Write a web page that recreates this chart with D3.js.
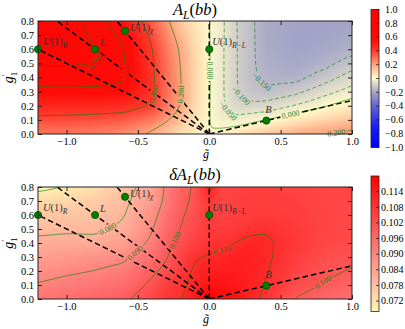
<!DOCTYPE html>
<html>
<head>
<meta charset="utf-8">
<script src="https://cdn.jsdelivr.net/npm/d3@7"></script>
<style>
  body { margin: 0; background: #fff; }
  svg text { font-family: "Liberation Serif", "DejaVu Serif", serif; }
</style>
</head>
<body>
<svg width="405" height="329"></svg>
<script>
var svg = d3.select('svg');

var gx = [-1.2, -1.0, -0.8, -0.6, -0.4, -0.3, -0.2, -0.1, 0.0, 0.1, 0.2, 0.3, 0.4, 0.6, 0.8, 1.0];
var gy = [0.0, 0.05, 0.1, 0.15, 0.2, 0.3, 0.4, 0.5, 0.6, 0.7, 0.8];

// A_L(bb), one row per gy value
var asym = [
  [0.28, 0.28, 0.27, 0.24, 0.18, 0.13, 0.08, 0.04, 0, 0.04, 0.08, 0.11, 0.14, 0.185, 0.205, 0.215],
  [0.32, 0.32, 0.31, 0.29, 0.22, 0.17, 0.11, 0.05, 0, -0.012, -0.002, 0.025, 0.065, 0.12, 0.16, 0.19],
  [0.37, 0.37, 0.36, 0.34, 0.28, 0.21, 0.145, 0.065, 0, -0.033, -0.03, -0.02, -0.005, 0.05, 0.1, 0.14],
  [0.42, 0.415, 0.41, 0.40, 0.34, 0.25, 0.175, 0.08, 0, -0.043, -0.06, -0.05, -0.045, -0.008, 0.04, 0.09],
  [0.47, 0.46, 0.46, 0.45, 0.39, 0.28, 0.195, 0.09, 0, -0.047, -0.085, -0.09, -0.08, -0.048, -0.01, 0.035],
  [0.57, 0.565, 0.57, 0.56, 0.42, 0.30, 0.202, 0.1, 0, -0.048, -0.102, -0.125, -0.14, -0.115, -0.07, -0.03],
  [0.65, 0.65, 0.655, 0.615, 0.42, 0.30, 0.202, 0.1, 0, -0.048, -0.103, -0.14, -0.165, -0.17, -0.125, -0.075],
  [0.71, 0.71, 0.705, 0.61, 0.415, 0.295, 0.195, 0.1, 0, -0.048, -0.103, -0.142, -0.175, -0.19, -0.17, -0.125],
  [0.75, 0.74, 0.705, 0.605, 0.405, 0.28, 0.185, 0.09, 0, -0.048, -0.103, -0.142, -0.18, -0.2, -0.19, -0.17],
  [0.78, 0.76, 0.68, 0.57, 0.37, 0.25, 0.16, 0.08, 0, -0.047, -0.103, -0.142, -0.182, -0.2, -0.2, -0.19],
  [0.80, 0.77, 0.645, 0.52, 0.33, 0.22, 0.12, 0.06, 0, -0.046, -0.105, -0.142, -0.185, -0.2, -0.205, -0.2]
];

// delta A_L(bb), one row per gy value
var delta = [
  [0.093, 0.095, 0.097, 0.099, 0.104, 0.108, 0.1095, 0.115, 0.12, 0.117, 0.1155, 0.1115, 0.1085, 0.0995, 0.0965, 0.094],
  [0.092, 0.0935, 0.095, 0.097, 0.103, 0.107, 0.109, 0.113, 0.118, 0.1165, 0.115, 0.112, 0.109, 0.1015, 0.098, 0.0955],
  [0.0905, 0.092, 0.093, 0.0955, 0.1015, 0.106, 0.1085, 0.112, 0.116, 0.1155, 0.1145, 0.1125, 0.1095, 0.103, 0.0995, 0.097],
  [0.089, 0.0905, 0.0915, 0.094, 0.1002, 0.104, 0.108, 0.1115, 0.1145, 0.1145, 0.114, 0.1125, 0.1099, 0.104, 0.1005, 0.0985],
  [0.0875, 0.089, 0.0902, 0.092, 0.0985, 0.102, 0.107, 0.111, 0.113, 0.1135, 0.1135, 0.1125, 0.1105, 0.105, 0.1015, 0.0995],
  [0.0845, 0.0855, 0.087, 0.0885, 0.095, 0.0995, 0.1045, 0.1095, 0.1105, 0.1115, 0.1125, 0.1125, 0.111, 0.1065, 0.1025, 0.1015],
  [0.0815, 0.082, 0.0815, 0.0845, 0.0915, 0.098, 0.102, 0.105, 0.1085, 0.1085, 0.1105, 0.112, 0.111, 0.1075, 0.104, 0.103],
  [0.0785, 0.079, 0.079, 0.081, 0.0895, 0.096, 0.1002, 0.1035, 0.107, 0.106, 0.107, 0.1085, 0.1095, 0.107, 0.1045, 0.1035],
  [0.0765, 0.077, 0.078, 0.0795, 0.0875, 0.094, 0.0993, 0.102, 0.1065, 0.105, 0.106, 0.1065, 0.1065, 0.106, 0.1045, 0.1035],
  [0.073, 0.074, 0.0755, 0.0785, 0.085, 0.092, 0.098, 0.1015, 0.108, 0.1045, 0.1055, 0.106, 0.106, 0.1055, 0.1045, 0.104],
  [0.0685, 0.07, 0.072, 0.0775, 0.083, 0.0915, 0.097, 0.101, 0.1125, 0.104, 0.105, 0.1055, 0.1055, 0.105, 0.1045, 0.104]
];

var xTicks = [-1.0, -0.5, 0.0, 0.5, 1.0];
var yTicks = [0.0, 0.1, 0.2, 0.3, 0.4, 0.5, 0.6, 0.7, 0.8];
var asymBarTicks = [-1.0, -0.8, -0.6, -0.4, -0.2, 0.0, 0.2, 0.4, 0.6, 0.8, 1.0];
var deltaBarTicks = [0.072, 0.078, 0.084, 0.090, 0.096, 0.102, 0.108, 0.114];
var asymLevels = [-0.15, -0.10, -0.05, 0.0, 0.2, 0.4, 0.6, 0.7];
var deltaLevels = [0.07, 0.08, 0.09, 0.10, 0.11];

// benchmark Z' models (g-tilde, g'1)
var modelMain = ['U(1)', 'L', 'U(1)', 'U(1)', 'B'];
var modelSub = ['R', '', 'χ', 'B−L', ''];
var modelX = [-1.2, -0.8, -0.59, 0.0, 0.4];
var modelY = [0.6, 0.6, 0.73, 0.6, 0.095];

// contour label anchors: level, g-tilde, g'1
var asymLabelAt = [[0.7, -0.8, 0.5], [0.6, -0.58, 0.43], [0.4, -0.37, 0.28], [0.2, -0.21, 0.28],
  [0.0, 0.0, 0.45], [0.0, 0.57, 0.135], [-0.05, 0.1, 0.14], [-0.10, 0.2, 0.24], [-0.15, 0.35, 0.35], [0.2, 0.8, 0.015]];
var deltaLabelAt = [[0.08, -0.69, 0.47], [0.09, -0.5, 0.3], [0.10, -0.24, 0.42], [0.11, 0.09, 0.35], [0.10, 0.79, 0.125]];

// label offsets for the model names (px)
var nameDx = [5, 5, 5, 3, -1];
var nameDy = [-4, -3, 0, -4, -8];

var xScale = d3.scaleLinear().domain([-1.2, 1.0]).range([38, 352]);

var asymColor = d3.scaleLinear()
  .domain([-1, -0.7, -0.4, -0.2, 0, 0.1, 0.2, 0.4, 0.55, 1])
  .range(["#0000ff", "#1c1cf4", "#6262d6", "#a3a3c7", "#fffacb", "#ffd6aa", "#ffa27e", "#ff3a2c", "#ff0c08", "#ff0000"])
  .clamp(true);
var deltaColor = d3.scaleLinear()
  .domain([0.068, 0.08, 0.094, 0.12])
  .range(["#fff8b4", "#ffb49c", "#ff7272", "#ff0000"])
  .clamp(true);

var step = 0.01, pad = 4;
var nx = Math.round(2.2 / step) + 1 + 2 * pad;
var ny = Math.round(0.8 / step) + 1 + 2 * pad;

// bilinear read of a table
function readTable(table, x, y) {
  x = Math.max(-1.2, Math.min(1.0, x));
  y = Math.max(0, Math.min(0.8, y));
  var i = Math.min(gx.length - 2, d3.bisectRight(gx, x) - 1);
  var j = Math.min(gy.length - 2, d3.bisectRight(gy, y) - 1);
  var tx = (x - gx[i]) / (gx[i + 1] - gx[i]);
  var ty = (y - gy[j]) / (gy[j + 1] - gy[j]);
  var a = table[j][i] * (1 - tx) + table[j][i + 1] * tx;
  var b = table[j + 1][i] * (1 - tx) + table[j + 1][i + 1] * tx;
  return a * (1 - ty) + b * ty;
}

function boxBlur(v, r) {
  var tmp = new Float64Array(v.length), out = new Float64Array(v.length);
  for (var j = 0; j < ny; j++) for (var i = 0; i < nx; i++) {
    var s = 0;
    for (var k = -r; k <= r; k++) s += v[j * nx + Math.max(0, Math.min(nx - 1, i + k))];
    tmp[j * nx + i] = s / (2 * r + 1);
  }
  for (var j = 0; j < ny; j++) for (var i = 0; i < nx; i++) {
    var s = 0;
    for (var k = -r; k <= r; k++) s += tmp[Math.max(0, Math.min(ny - 1, j + k)) * nx + i];
    out[j * nx + i] = s / (2 * r + 1);
  }
  return out;
}

function fineField(table) {
  var v = new Float64Array(nx * ny);
  for (var j = 0; j < ny; j++) for (var i = 0; i < nx; i++) {
    v[j * nx + i] = readTable(table, -1.2 + (i - pad) * step, (j - pad) * step);
  }
  return boxBlur(boxBlur(v, 2), 2);
}

function fineAt(F, x, y) {
  var fi = (x + 1.2) / step + pad, fj = y / step + pad;
  var i = Math.max(0, Math.min(nx - 2, Math.floor(fi)));
  var j = Math.max(0, Math.min(ny - 2, Math.floor(fj)));
  var tx = fi - i, ty = fj - j;
  var a = F[j * nx + i] * (1 - tx) + F[j * nx + i + 1] * tx;
  var b = F[(j + 1) * nx + i] * (1 - tx) + F[(j + 1) * nx + i + 1] * tx;
  return a * (1 - ty) + b * ty;
}

function drawPanel(p) {
  var X0 = 38, X1 = 352, W = X1 - X0, H = p.bottom - p.top;
  var yScale = d3.scaleLinear().domain([0, 0.8]).range([p.bottom, p.top]);
  var F = fineField(p.table);

  // heat map
  var canvas = document.createElement('canvas');
  canvas.width = W; canvas.height = H;
  var ctx = canvas.getContext('2d');
  var img = ctx.createImageData(W, H);
  for (var py = 0; py < H; py++) {
    for (var px = 0; px < W; px++) {
      var c = d3.rgb(p.color(fineAt(F, xScale.invert(X0 + px + 0.5), yScale.invert(p.top + py + 0.5))));
      var o = (py * W + px) * 4;
      img.data[o] = c.r; img.data[o + 1] = c.g; img.data[o + 2] = c.b; img.data[o + 3] = 255;
    }
  }
  ctx.putImageData(img, 0, 0);
  svg.append('image').attr('x', X0).attr('y', p.top).attr('width', W).attr('height', H)
    .attr('preserveAspectRatio', 'none').attr('href', canvas.toDataURL());

  var clipId = 'clip-' + p.id, maskId = 'mask-' + p.id;
  svg.append('clipPath').attr('id', clipId)
    .append('rect').attr('x', X0).attr('y', p.top).attr('width', W).attr('height', H);
  var mask = svg.append('mask').attr('id', maskId).attr('maskUnits', 'userSpaceOnUse')
    .attr('x', 0).attr('y', 0).attr('width', 405).attr('height', 329);
  mask.append('rect').attr('width', 405).attr('height', 329).attr('fill', 'white');

  // contour lines
  var toPx = function(ring) {
    return ring.map(function(pt) {
      return [xScale(-1.2 + (pt[0] - 0.5 - pad) * step), yScale((pt[1] - 0.5 - pad) * step)];
    });
  };
  var sets = d3.contours().size([nx, ny]).thresholds(p.levels)(Array.from(F));
  var lines = svg.append('g').attr('clip-path', 'url(#' + clipId + ')')
    .append('g').attr('mask', 'url(#' + maskId + ')');
  sets.forEach(function(c) {
    c.coordinates.forEach(function(poly) {
      poly.forEach(function(ring) {
        lines.append('path')
          .attr('d', d3.line()(toPx(ring)))
          .attr('fill', 'none')
          .attr('stroke', '#008000')
          .attr('stroke-opacity', 0.62)
          .attr('stroke-width', 1)
          .attr('stroke-dasharray', c.value < 0 ? '4,2.5' : null);
      });
    });
  });

  // model lines from the origin to the frame
  modelX.forEach(function(mx, i) {
    var my = modelY[i];
    var t = Math.min(mx < 0 ? -1.2 / mx : (mx > 0 ? 1.0 / mx : Infinity), 0.8 / my);
    lines.append('line')
      .attr('x1', xScale(0)).attr('y1', yScale(0))
      .attr('x2', xScale(mx * t)).attr('y2', yScale(my * t))
      .attr('stroke', '#000').attr('stroke-width', 1.5)
      .attr('stroke-dasharray', '5.5,3.2');
  });

  // contour labels
  var fmt = d3.format('.3f');
  p.labels.forEach(function(spec) {
    var c = sets.find(function(d) { return Math.abs(d.value - spec[0]) < 1e-9; });
    if (!c) return;
    var tx = xScale(spec[1]), ty = yScale(spec[2]);
    var best = null, bi = 0, bd = Infinity;
    c.coordinates.forEach(function(poly) {
      poly.forEach(function(ring) {
        var pts = toPx(ring);
        pts.forEach(function(q, k) {
          if (q[0] < X0 + 1 || q[0] > X1 - 1 || q[1] < p.top + 1 || q[1] > p.bottom - 1) return;
          var d = (q[0] - tx) * (q[0] - tx) + (q[1] - ty) * (q[1] - ty);
          if (d < bd) { bd = d; best = pts; bi = k; }
        });
      });
    });
    if (!best) return;
    var a = best[Math.max(0, bi - 4)], b = best[Math.min(best.length - 1, bi + 4)];
    var ang = Math.atan2(b[1] - a[1], b[0] - a[0]) * 180 / Math.PI;
    if (ang > 90) ang -= 180;
    if (ang < -90) ang += 180;
    var at = best[bi];
    var tr = 'translate(' + at[0] + ',' + at[1] + ') rotate(' + ang + ')';
    var t = svg.append('text')
      .attr('transform', tr)
      .attr('text-anchor', 'middle')
      .attr('dy', '0.33em')
      .attr('font-size', 8)
      .attr('fill', '#1b7d1b')
      .text(fmt(spec[0]));
    var w = t.node().getComputedTextLength();
    mask.append('rect').attr('transform', tr)
      .attr('x', -w / 2 - 1.5).attr('y', -4).attr('width', w + 3).attr('height', 8)
      .attr('fill', 'black');
  });

  // model points and names
  modelX.forEach(function(mx, i) {
    var cx = xScale(mx), cy = yScale(modelY[i]);
    var t = svg.append('text')
      .attr('x', cx + nameDx[i]).attr('y', cy + nameDy[i])
      .attr('font-size', 10.5).attr('fill', '#333');
    if (modelMain[i] === 'U(1)') {
      t.append('tspan').attr('font-style', 'italic').text('U');
      t.append('tspan').text('(1)');
    } else {
      t.append('tspan').attr('font-style', 'italic').text(modelMain[i]);
    }
    if (modelSub[i]) {
      t.append('tspan').attr('font-style', 'italic').attr('font-size', 7.5).attr('dy', 2.5).text(modelSub[i]);
    }
  });
  modelX.forEach(function(mx, i) {
    svg.append('circle')
      .attr('cx', xScale(mx)).attr('cy', yScale(modelY[i])).attr('r', 3.6)
      .attr('fill', '#008000').attr('stroke', '#004d00').attr('stroke-width', 0.8);
  });

  // frame and ticks
  var ax = [
    svg.append('g').attr('transform', 'translate(0,' + p.bottom + ')')
      .call(d3.axisBottom(xScale).tickValues(xTicks).tickSize(-4).tickPadding(4).tickFormat(d3.format('.1f'))),
    svg.append('g').attr('transform', 'translate(0,' + p.top + ')')
      .call(d3.axisTop(xScale).tickValues(xTicks).tickSize(-4).tickFormat('')),
    svg.append('g').attr('transform', 'translate(' + X0 + ',0)')
      .call(d3.axisLeft(yScale).tickValues(yTicks).tickSize(-4).tickPadding(4).tickFormat(d3.format('.1f'))),
    svg.append('g').attr('transform', 'translate(' + X1 + ',0)')
      .call(d3.axisRight(yScale).tickValues(yTicks).tickSize(-4).tickFormat(''))
  ];
  ax.forEach(function(a) {
    a.select('.domain').remove();
    a.attr('font-family', '"Liberation Serif", serif').attr('font-size', 10.5);
    a.selectAll('line').attr('stroke', '#222');
  });
  svg.append('rect').attr('x', X0).attr('y', p.top).attr('width', W).attr('height', H)
    .attr('fill', 'none').attr('stroke', '#222').attr('stroke-width', 1);

  // title
  var title = svg.append('text').attr('x', 195).attr('y', p.titleY)
    .attr('text-anchor', 'middle').attr('font-size', 16.5);
  if (p.prefix) title.append('tspan').attr('font-style', 'italic').text(p.prefix);
  title.append('tspan').attr('font-style', 'italic').text('A');
  title.append('tspan').attr('font-style', 'italic').attr('font-size', 11.5).attr('dy', 4).text('L');
  title.append('tspan').attr('dy', -4).text('(');
  title.append('tspan').attr('font-style', 'italic').text('bb');
  title.append('tspan').text(')');

  // axis labels
  svg.append('text').attr('x', 206).attr('y', p.bottom + 24)
    .attr('text-anchor', 'middle').attr('font-size', 12).attr('font-style', 'italic')
    .text('g\u0303');
  var yl = svg.append('text')
    .attr('transform', 'translate(13,' + (p.top + p.bottom) / 2 + ') rotate(-90)')
    .attr('text-anchor', 'middle').attr('font-size', 14).attr('font-style', 'italic');
  yl.append('tspan').text('g');
  yl.append('tspan').attr('font-size', 9).attr('dy', -5).attr('font-style', 'normal').text('′');
  yl.append('tspan').attr('font-size', 9).attr('dy', 9).attr('dx', -2).attr('font-style', 'normal').text('1');

  // colour bar
  var bar = d3.scaleLinear().domain(p.barDomain).range([p.barBottom, p.barTop]);
  var gid = 'grad-' + p.id;
  var grad = svg.append('defs').append('linearGradient').attr('id', gid)
    .attr('x1', 0).attr('y1', 1).attr('x2', 0).attr('y2', 0);
  d3.range(0, 41).forEach(function(k) {
    var v = p.barDomain[0] + (p.barDomain[1] - p.barDomain[0]) * k / 40;
    grad.append('stop').attr('offset', (k / 40 * 100) + '%').attr('stop-color', p.color(v));
  });
  svg.append('rect').attr('x', 371).attr('y', p.barTop).attr('width', 8)
    .attr('height', p.barBottom - p.barTop)
    .attr('fill', 'url(#' + gid + ')').attr('stroke', '#222').attr('stroke-width', 0.8);
  var bf = d3.format(p.barFormat);
  p.barTicks.forEach(function(v) {
    svg.append('line').attr('x1', 379).attr('x2', 376).attr('y1', bar(v)).attr('y2', bar(v))
      .attr('stroke', '#222').attr('stroke-width', 0.8);
    svg.append('text').attr('x', p.barLabelX).attr('y', bar(v)).attr('dy', '0.33em')
      .attr('font-size', 10).text(bf(v));
  });
}

drawPanel({
  id: 'asym', table: asym, color: asymColor, levels: asymLevels, labels: asymLabelAt,
  top: 21, bottom: 134, titleY: 15, prefix: '',
  barDomain: [-1, 1], barTop: 9.5, barBottom: 147.5, barTicks: asymBarTicks, barFormat: '.1f', barLabelX: 385
});
drawPanel({
  id: 'delta', table: delta, color: deltaColor, levels: deltaLevels, labels: deltaLabelAt,
  top: 187, bottom: 299, titleY: 180, prefix: 'δ',
  barDomain: [0.068, 0.12], barTop: 176, barBottom: 311.5, barTicks: deltaBarTicks, barFormat: '.3f', barLabelX: 381
});
</script>
</body>
</html>
